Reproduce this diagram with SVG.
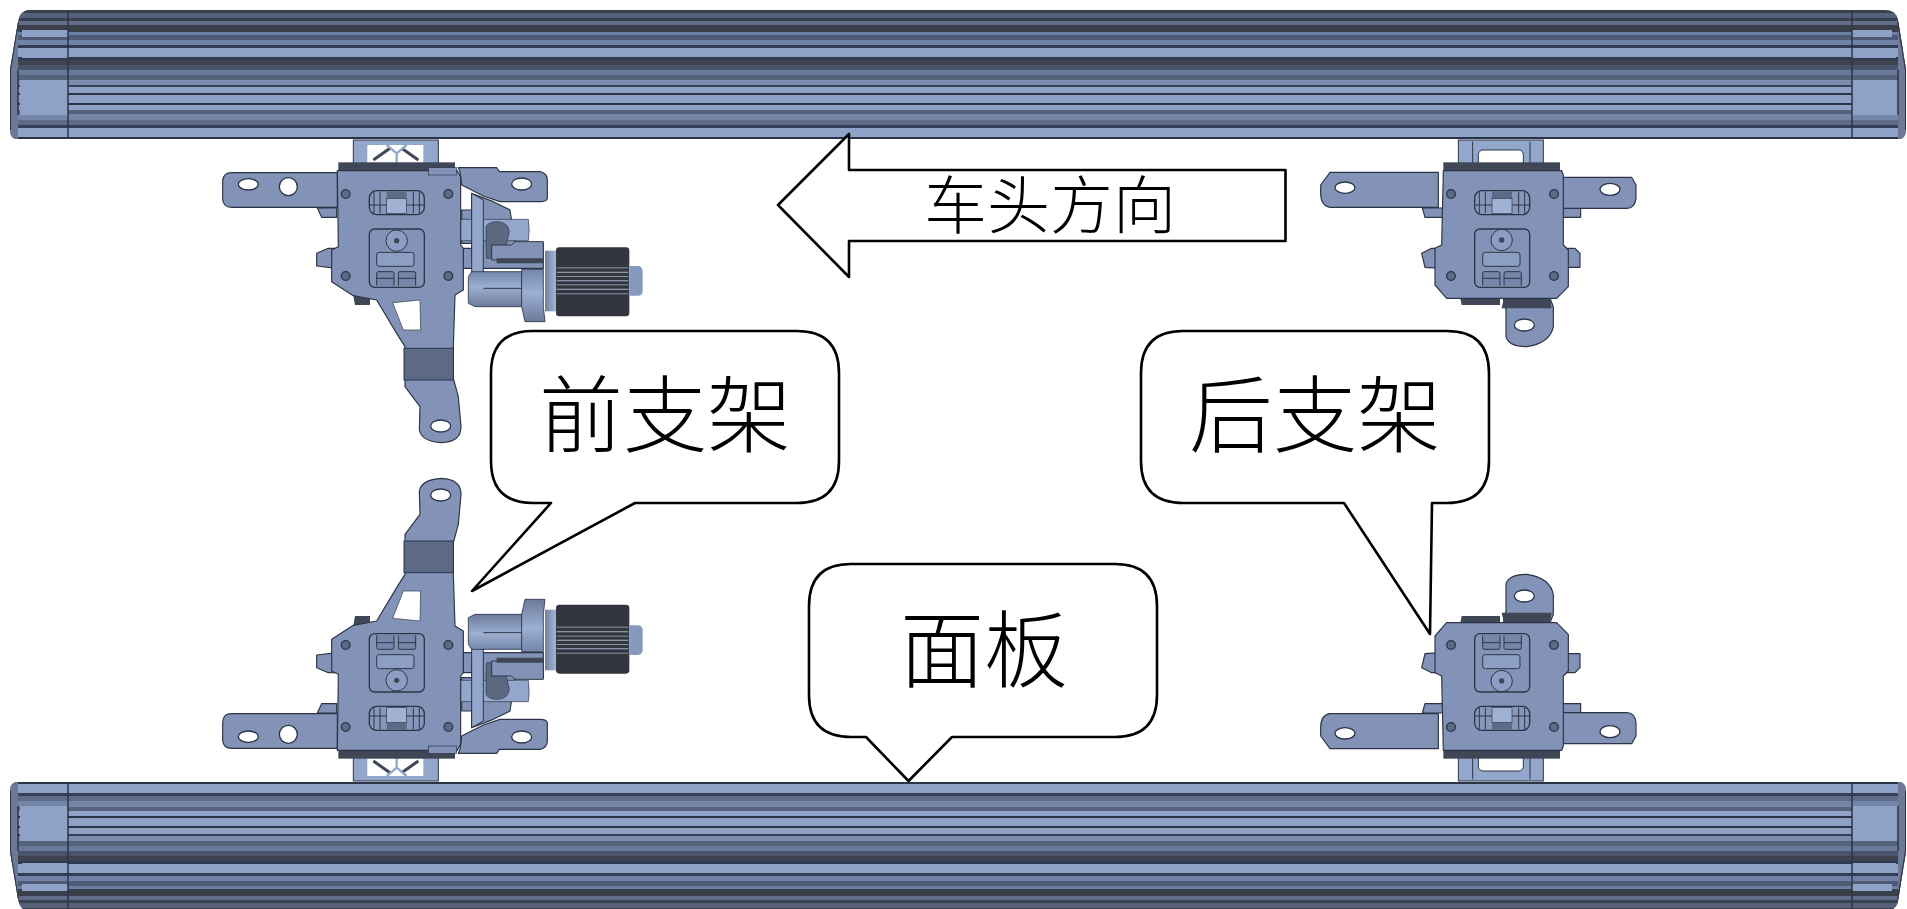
<svg xmlns="http://www.w3.org/2000/svg" width="1907" height="909" viewBox="0 0 1907 909">
<style>
.m{fill:#8293b7;stroke:#2c3547;stroke-width:3.5;stroke-linejoin:round}
.l{fill:#93a6cb;stroke:#2c3547;stroke-width:3}
.n{fill:none;stroke:#2c3547;stroke-width:3}
.h{fill:#fff;stroke:#2c3547;stroke-width:4}
.d{fill:#3f4757}
.s{fill:#5d6a85}
.c{fill:#fff;stroke:#000;stroke-width:2.6;stroke-linejoin:round}
text{font-family:"Liberation Serif","Noto Sans CJK SC",serif;font-weight:300;fill:#000;text-anchor:middle}
.big{font-size:84px}
.mid{font-size:63px}
</style>
<defs>
<clipPath id="railClip"><path d="M28 10H1885Q1896 10 1898 20L1906 70V130Q1906 139 1898 139H18Q10 139 10 130V70L18 22Q20 11 28 10Z"/></clipPath>
<linearGradient id="neck" x1="0" y1="0" x2="1" y2="0"><stop offset="0" stop-color="#6f7f9f"/><stop offset="1" stop-color="#a9b9d8"/></linearGradient>
<linearGradient id="body" x1="0" y1="0" x2="0" y2="1"><stop offset="0" stop-color="#7486aa"/><stop offset=".45" stop-color="#9db0d2"/><stop offset="1" stop-color="#6a7a9b"/></linearGradient>
<g id="rail" clip-path="url(#railClip)">
<rect x="0" y="10" width="1907" height="130" fill="#56637e"/>
<rect x="0" y="10" width="1907" height="3" fill="#39414f"/>
<rect x="0" y="13" width="1907" height="5" fill="#566079"/>
<rect x="0" y="18" width="1907" height="3" fill="#39414f"/>
<rect x="0" y="21" width="1907" height="4" fill="#626e88"/>
<rect x="0" y="25" width="1907" height="7" fill="#3a3f4a"/>
<rect x="0" y="32" width="1907" height="3" fill="#6c7fa2"/>
<rect x="0" y="35" width="1907" height="5" fill="#4f5b74"/>
<rect x="0" y="40" width="1907" height="5" fill="#7083a6"/>
<rect x="0" y="45" width="1907" height="3" fill="#323c52"/>
<rect x="0" y="48" width="1907" height="9" fill="#8ea2c8"/>
<rect x="0" y="57" width="1907" height="3" fill="#2f3a50"/>
<rect x="0" y="60" width="1907" height="5" fill="#3e434f"/>
<rect x="0" y="65" width="1907" height="5" fill="#4a556c"/>
<rect x="0" y="70" width="1907" height="5" fill="#6a7a9a"/>
<rect x="0" y="75" width="1907" height="5" fill="#56637d"/>
<rect x="0" y="80" width="1907" height="5" fill="#7a8cb0"/>
<rect x="0" y="85" width="1907" height="2" fill="#344058"/>
<rect x="0" y="87" width="1907" height="6" fill="#8ea2c8"/>
<rect x="0" y="93" width="1907" height="2" fill="#2a3449"/>
<rect x="0" y="95" width="1907" height="8" fill="#8ea2c8"/>
<rect x="0" y="103" width="1907" height="2" fill="#2a3449"/>
<rect x="0" y="105" width="1907" height="5" fill="#8ea2c8"/>
<rect x="0" y="110" width="1907" height="4" fill="#56637e"/>
<rect x="0" y="114" width="1907" height="6" fill="#7386a8"/>
<rect x="0" y="120" width="1907" height="5" fill="#5e6c88"/>
<rect x="0" y="125" width="1907" height="3" fill="#344058"/>
<rect x="0" y="128" width="1907" height="9" fill="#8ea2c8"/>
<rect x="0" y="137" width="1907" height="3" fill="#2a3449"/>
<g fill="#8ea2c8">
<rect x="22" y="30" width="46" height="7"/><rect x="22" y="48" width="46" height="10"/><rect x="20" y="80" width="48" height="35"/>
<rect x="1852" y="30" width="40" height="7"/><rect x="1852" y="48" width="44" height="10"/><rect x="1852" y="80" width="46" height="35"/>
</g>
<rect x="10" y="0" width="8" height="140" fill="#6d7a96"/>
<rect x="1898" y="0" width="9" height="140" fill="#6d7a96"/>
<path d="M18 22L10 70V130M1898 22L1906 70V130" fill="none" stroke="#2c3547" stroke-width="2"/>
<path d="M18 70V115M1898 70V115M68 10V139M1852 10V139" fill="none" stroke="#2c3547" stroke-width="1.5"/>
</g>
<g id="frontBracket">
<rect x="460" y="30" width="255" height="72" fill="#93a6cb" stroke="#2c3547" stroke-width="3"/>
<path d="M502 45H670V98H502Z" fill="#fff"/>
<path d="M520 90L570 55M655 90L605 55" fill="none" stroke="#3f4757" stroke-width="9"/>
<path d="M560 45L590 70L620 45M590 70V98" fill="none" stroke="#93a6cb" stroke-width="7"/>
<path d="M352 234H410V262H365Z" class="m"/>
<path d="M350 370L385 355H410V415L350 408Z" class="m"/>
<path d="M785 240H815V340H785ZM790 355H825V415H790Z" class="m"/>
<path d="M815 190L880 215L930 240L945 340H1030V415H850L815 380Z" class="m"/>
<path d="M772 268H985Q990 300 985 332H772Q765 300 772 268Z" fill="#93a6cb" stroke="#2c3547" stroke-width="2"/>
<path d="M815 190L850 210V520L815 520Z" class="l"/>
<path d="M858 350V290Q865 275 895 275Q925 278 928 305L920 340L890 385H860Z" fill="#5c6880" stroke="#2c3547" stroke-width="2"/>
<path d="M875 345H935L945 335H1030V390H875Z" fill="#8293b7" stroke="#2c3547" stroke-width="3"/>
<path d="M890 385H1030V400H890Z" fill="#3f4757"/>
<path d="M815 425H965V530H825L805 520V440Z" fill="url(#body)" stroke="#2c3547" stroke-width="2.5"/>
<path d="M850 475H965" class="n" stroke-width="2"/>
<path d="M965 418H1030V530L1035 575H975L965 530Z" fill="url(#body)" stroke="#2c3547" stroke-width="2.5"/>
<rect x="1035" y="362" width="35" height="182" fill="url(#neck)"/>
<path d="M1078 352H1278Q1288 352 1288 362V549Q1288 559 1278 559H1078Q1068 559 1068 549V362Q1068 352 1078 352Z" fill="#33363d"/>
<g fill="#8a95ab"><rect x="1070" y="412" width="215" height="3"/><rect x="1070" y="425" width="215" height="4"/><rect x="1070" y="438" width="215" height="3"/><rect x="1070" y="450" width="215" height="4"/><rect x="1070" y="463" width="215" height="3"/><rect x="1070" y="476" width="215" height="4"/><rect x="1070" y="490" width="215" height="3"/></g>
<path d="M1288 408H1315Q1328 410 1328 425V482Q1328 496 1315 497H1288Z" fill="#8598bd"/>
<path d="M780 125L775 113H890L898 125H1020Q1042 130 1042 150V205Q1040 215 1020 215H900L850 198L785 165Z" class="m"/>
<ellipse class="h" cx="965" cy="162" rx="30" ry="18"/>
<rect x="415" y="97" width="350" height="30" class="d"/>
<path d="M95 128H412V232H95Q68 232 68 205V152Q70 128 95 128Z" class="m"/>
<ellipse class="h" cx="145" cy="163" rx="30" ry="17"/>
<circle class="h" cx="265" cy="170" r="27"/>
<path d="M460 497H510V525H465Z" class="d"/>
<path d="M412 122H772L782 140V345L790 355V480L765 495L760 650V745L775 800L783 890Q783 935 725 938Q665 935 658 900L660 830L615 770V650L590 610L530 510L460 497L395 455V360L415 350Z" class="m"/>
<path d="M578 518L660 510L662 600H610Z" fill="#fff" stroke="#2c3547" stroke-width="2"/>
<rect x="612" y="655" width="148" height="95" fill="#5d6a85" stroke="#2c3547" stroke-width="3"/>
<ellipse class="h" cx="722" cy="888" rx="30" ry="18"/>
<rect x="685" y="113" width="85" height="22" fill="#8193b6" stroke="#2c3547" stroke-width="2"/>
<g fill="#5d6a85" stroke="#2c3547" stroke-width="4">
<circle cx="437" cy="192" r="13"/><circle cx="745" cy="192" r="13"/><circle cx="437" cy="438" r="13"/><circle cx="745" cy="438" r="13"/>
</g>
<rect x="508" y="182" width="165" height="72" rx="22" fill="#8797bb" stroke="#2c3547" stroke-width="4"/>
<rect x="560" y="205" width="60" height="45" fill="#a0b2d4" stroke="#2c3547" stroke-width="2"/>
<rect x="560" y="184" width="60" height="20" fill="#5d6a85"/>
<path d="M522 185V250M540 185V250M640 185V250M658 185V250M510 225H560M620 225H672" class="n"/>
<rect x="508" y="297" width="165" height="175" rx="16" fill="#8293b7" stroke="#2c3547" stroke-width="4"/>
<circle cx="590" cy="332" r="32" fill="#8c9ec3" stroke="#2c3547" stroke-width="3"/>
<circle cx="590" cy="332" r="8" fill="#3f4757"/>
<rect x="530" y="367" width="112" height="42" rx="8" fill="#8c9ec3" stroke="#2c3547" stroke-width="3"/>
<path d="M530 467V430Q530 425 535 425H577Q582 425 582 430V467M530 445H582M595 467V430Q595 425 600 425H642Q647 425 647 430V467M595 445H647" fill="#7486a9" stroke="#2c3547" stroke-width="3"/>
</g>
<g id="rearBracket">
<rect x="475" y="30" width="255" height="72" fill="#93a6cb" stroke="#2c3547" stroke-width="3"/>
<path d="M518 35V100M690 35V100" class="n"/>
<rect x="535" y="60" width="135" height="50" rx="14" fill="#fff" stroke="#2c3547" stroke-width="3"/>
<path d="M367 234H430V262H375Z" class="m"/>
<path d="M365 370L395 355H425V415L375 412Z" class="m"/>
<path d="M785 234H842V262H785Z" class="m"/>
<path d="M790 355H825L840 370V412H790Z" class="m"/>
<path d="M610 505H750L760 530V590Q750 640 680 650Q625 650 618 620V540Z" class="m"/>
<path d="M612 505H750L755 535H605Z" class="d"/>
<ellipse class="h" cx="673" cy="585" rx="30" ry="18"/>
<path d="M480 500H600V525H485Z" class="d"/>
<rect x="430" y="97" width="350" height="30" class="d"/>
<path d="M90 127H415V232H90Q62 228 62 190V165Z" class="m"/>
<ellipse class="h" cx="135" cy="173" rx="30" ry="17"/>
<path d="M785 142H995L1008 165V205Q1005 235 980 235H785Z" class="m"/>
<ellipse class="h" cx="930" cy="178" rx="30" ry="18"/>
<path d="M430 122H785L790 135V345L805 360V470L770 505H440L405 465V355L425 345Z" class="m"/>
<g fill="#5d6a85" stroke="#2c3547" stroke-width="4">
<circle cx="453" cy="192" r="13"/><circle cx="762" cy="192" r="13"/><circle cx="453" cy="438" r="13"/><circle cx="762" cy="438" r="13"/>
</g>
<rect x="524" y="182" width="165" height="72" rx="22" fill="#8797bb" stroke="#2c3547" stroke-width="4"/>
<rect x="576" y="205" width="60" height="45" fill="#a0b2d4" stroke="#2c3547" stroke-width="2"/>
<rect x="576" y="184" width="60" height="20" fill="#5d6a85"/>
<path d="M538 185V250M556 185V250M656 185V250M674 185V250M526 225H576M636 225H688" class="n"/>
<rect x="524" y="297" width="165" height="175" rx="16" fill="#8293b7" stroke="#2c3547" stroke-width="4"/>
<circle cx="605" cy="330" r="32" fill="#8c9ec3" stroke="#2c3547" stroke-width="3"/>
<circle cx="605" cy="330" r="8" fill="#3f4757"/>
<rect x="548" y="367" width="112" height="42" rx="8" fill="#8c9ec3" stroke="#2c3547" stroke-width="3"/>
<path d="M548 467V430Q548 425 553 425H595Q600 425 600 430V467M548 445H600M612 467V430Q612 425 617 425H659Q664 425 664 430V467M612 445H664" fill="#7486a9" stroke="#2c3547" stroke-width="3"/>
</g>
</defs>
<g id="panel-top"><use href="#rail"/></g>
<g id="panel-bottom"><use href="#rail" transform="matrix(1 0 0 -1 0 921)"/></g>
<g id="bracket-front-top"><use href="#frontBracket" transform="translate(200 130) scale(.33333)"/></g>
<g id="bracket-front-bottom"><use href="#frontBracket" transform="translate(200 791) scale(.33333 -.33333)"/></g>
<g id="bracket-rear-top"><use href="#rearBracket" transform="translate(1300 130) scale(.33333)"/></g>
<g id="bracket-rear-bottom"><use href="#rearBracket" transform="translate(1300 791) scale(.33333 -.33333)"/></g>
<g id="direction-arrow">
<path class="c" d="M778 205L849 134V170H1285.5V241H849V277Z"/>
<text class="mid" x="1050" y="228">车头方向</text>
</g>
<g id="callout-front">
<path class="c" d="M533 331H797Q839 331 839 373V461Q839 503 797 503H635L472 591L551 503H533Q491 503 491 461V373Q491 331 533 331Z"/>
<text class="big" x="665" y="446">前支架</text>
</g>
<g id="callout-rear">
<path class="c" d="M1183 331H1447Q1489 331 1489 373V461Q1489 503 1447 503H1432L1430 634L1344 503H1183Q1141 503 1141 461V373Q1141 331 1183 331Z"/>
<text class="big" x="1315" y="446">后支架</text>
</g>
<g id="callout-panel">
<path class="c" d="M851 564H1115Q1157 564 1157 606V695Q1157 737 1115 737H952L908.5 781L866 737H851Q809 737 809 695V606Q809 564 851 564Z"/>
<text class="big" x="984" y="681">面板</text>
</g>
</svg>
